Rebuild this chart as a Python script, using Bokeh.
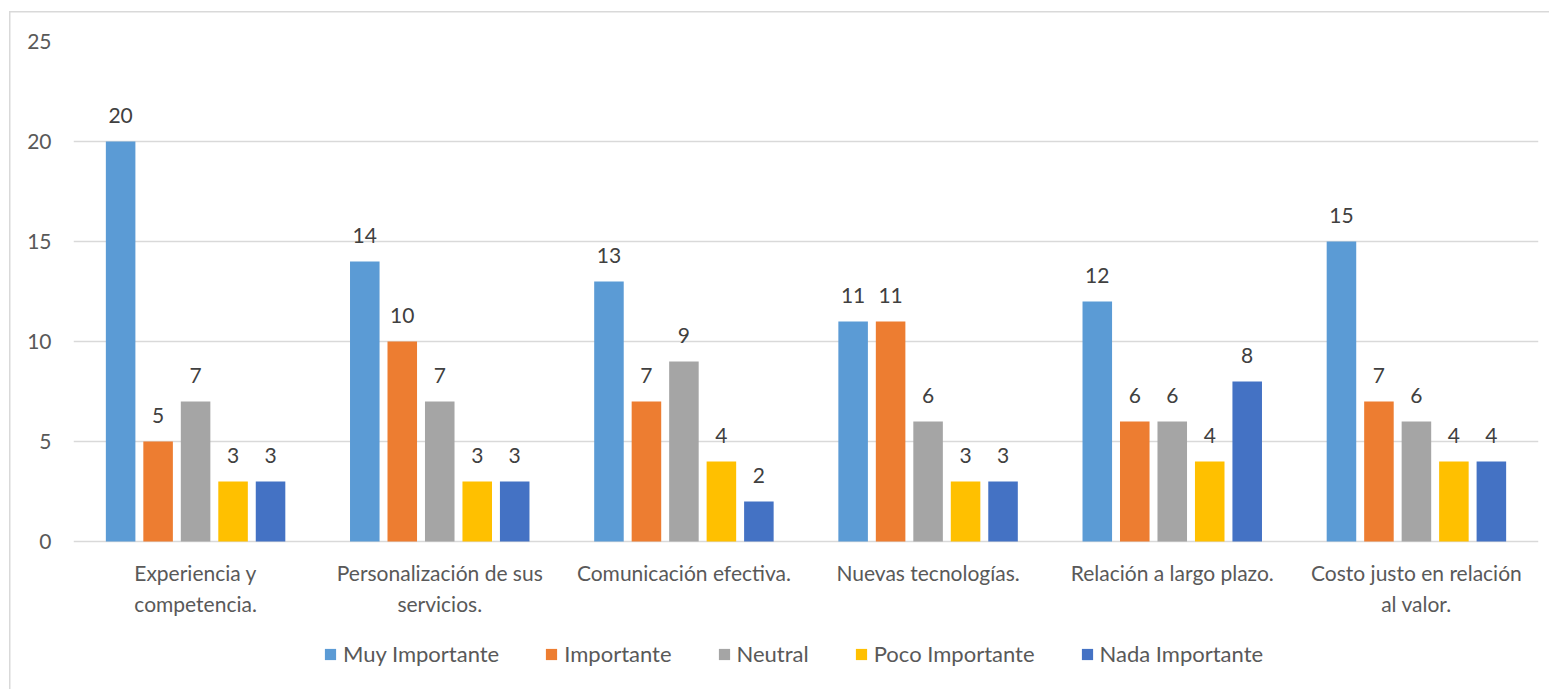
from bokeh.plotting import figure
from bokeh.models import (FactorRange, Range1d, FixedTicker, Legend, LegendItem,
                          ColumnDataSource, LabelSet)
from bokeh.core.properties import value
from bokeh.transform import dodge
from bokeh.embed import file_html
from bokeh.resources import INLINE

categories = [
    "Experiencia y competencia.",
    "Personalización de sus servicios.",
    "Comunicación efectiva.",
    "Nuevas tecnologías.",
    "Relación a largo plazo.",
    "Costo justo en relación al valor.",
]
category_lines = [
    "Experiencia y\ncompetencia.",
    "Personalización de sus\nservicios.",
    "Comunicación efectiva.",
    "Nuevas tecnologías.",
    "Relación a largo plazo.",
    "Costo justo en relación\nal valor.",
]
series_names = ["Muy Importante", "Importante", "Neutral", "Poco Importante", "Nada Importante"]
muy_importante = [20, 14, 13, 11, 12, 15]
importante = [5, 10, 7, 11, 6, 7]
neutral = [7, 7, 9, 6, 6, 6]
poco_importante = [3, 3, 4, 3, 4, 4]
nada_importante = [3, 3, 2, 3, 8, 4]
series_values = [muy_importante, importante, neutral, poco_importante, nada_importante]
colors = ["#5B9BD5", "#ED7D31", "#A5A5A5", "#FFC000", "#4472C4"]
y_ticks = [0, 5, 10, 15, 20, 25]

FONT = "Lato"
FS = "21px"
W, H = 1549, 689
TOP, LEFT, RIGHT = 41, 73, 11
PX_PER_UNIT = 20
Y_MIN = -(H - TOP - 25 * PX_PER_UNIT) / PX_PER_UNIT   # room below 0 for labels and legend

p = figure(
    x_range=FactorRange(*categories, range_padding=0),
    y_range=Range1d(Y_MIN, 25),
    width=W, height=H,
    output_backend="svg", toolbar_location=None,
    min_border_left=LEFT, min_border_right=RIGHT,
    min_border_top=TOP, min_border_bottom=0,
)
p.outline_line_color = None
p.background_fill_color = "white"
p.border_fill_color = None
# thin chart-area border along the left and top edges
p.styles = {
    "background": (
        "linear-gradient(#d9d9d9, #d9d9d9) 9px 11px / 1.5px 100% no-repeat, "
        "linear-gradient(#d9d9d9, #d9d9d9) 9px 11px / 100% 1.5px no-repeat, white"
    )
}

# axes
p.yaxis.ticker = FixedTicker(ticks=y_ticks)
p.yaxis.axis_line_color = None
p.yaxis.major_tick_line_color = None
p.yaxis.minor_tick_line_color = None
p.yaxis.major_label_standoff = 16
p.yaxis.major_label_text_font = FONT
p.yaxis.major_label_text_font_size = FS
p.yaxis.major_label_text_color = "#595959"
p.xaxis.visible = False

p.xgrid.grid_line_color = None
p.ygrid.grid_line_color = "#d9d9d9"
p.ygrid.grid_line_width = 1.5

# grouped bars
step = 0.1535
bar_w = 0.121
offsets = [(i - 2) * step for i in range(5)]
data = {"cat": categories, "cat_lbl": category_lines,
        "lbl_y": [-18 / PX_PER_UNIT] * len(categories)}
for name, vals in zip(series_names, series_values):
    data[name] = vals
    data[name + "_lbl"] = [str(v) for v in vals]
src = ColumnDataSource(data)

items = []
for name, col, off in zip(series_names, colors, offsets):
    r = p.vbar(x=dodge("cat", off, range=p.x_range), top=name, width=bar_w,
               source=src, fill_color=col, line_color=None)
    items.append(LegendItem(label=name, renderers=[r]))
    p.add_layout(LabelSet(
        x=dodge("cat", off, range=p.x_range), y=name, text=name + "_lbl",
        source=src, text_align="center", text_baseline="middle", y_offset=26,
        text_font=value(FONT), text_font_size=value(FS), text_color="#404040"))

# category labels below the zero line
p.text(x="cat", y="lbl_y", text="cat_lbl", source=src,
       text_align="center", text_baseline="top",
       text_font=value(FONT), text_font_size=value(FS), text_color="#595959",
       text_line_height=1.24)

legend = Legend(items=items, orientation="horizontal", location=(250, 22),
                label_text_font=FONT, label_text_font_size="22px",
                label_text_color="#595959", glyph_width=14, glyph_height=14,
                label_standoff=6, spacing=45, padding=0, margin=0,
                border_line_color=None, background_fill_alpha=0)
p.add_layout(legend, "center")

open("out.html", "w").write(file_html(p, INLINE))
